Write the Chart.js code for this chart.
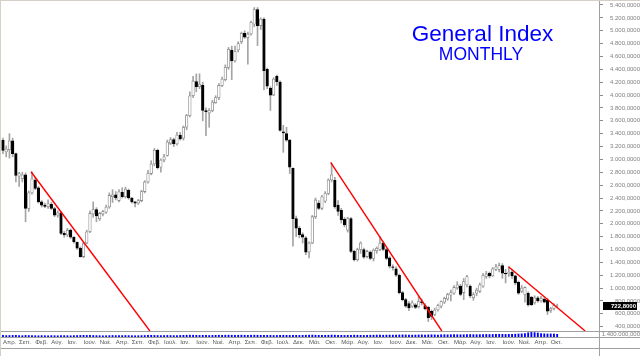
<!DOCTYPE html>
<html>
<head>
<meta charset="utf-8">
<script src="https://cdn.jsdelivr.net/npm/chart.js@4.4.1/dist/chart.umd.min.js"></script>
<style>
html,body{margin:0;padding:0;background:#fff;}
#wrap{width:640px;height:356px;position:relative;}
</style>
</head>
<body>
<div id="wrap"><canvas id="c" width="640" height="356"></canvas></div>
<script>
// ---- tick labels (x axis: one label every 5 monthly bars) ----
const tickLabels = ['Απρ.','Σεπ.','Φεβ.','Αύγ.','Ιαν.','Ιούν.','Νοέ.','Απρ.','Σεπ.','Φεβ.','Ιούλ.','Ιαν.','Ιούν.','Νοέ.','Απρ.','Σεπ.','Φεβ.','Ιούλ.','Δεκ.','Μάι.','Οκτ.','Μάρ.','Αύγ.','Ιαν.','Ιούν.','Δεκ.','Μάι.','Οκτ.','Μάρ.','Αύγ.','Ιαν.','Ιούν.','Νοέ.','Απρ.','Οκτ.'];
const tickBars = [0,5,10,15,20,25,30,35,40,45,50,55,60,65,70,75,80,85,90,95,100,105,110,115,120,125,130,135,140,145,150,155,160,165,170];
const yTicks = [400,600,800,1000,1200,1400,1600,1800,2000,2200,2400,2600,2800,3000,3200,3400,3600,3800,4000,4200,4400,4600,4800,5000,5200,5400];
const volTicks = [1400000];

// ---- monthly OHLC of the General Index ----
const opens = [3295,3115,3150,3290,3090,2740,2701,2760,2237,2480,
2680,2560,2340,2290,2265,2300,2237,2134,2170,1850,
1825,1900,1790,1710,1620,1490,1700,1876,2150,2220,
2080,2150,2180,2260,2420,2450,2360,2490,2420,2520,
2400,2340,2320,2360,2500,2650,2780,2930,3140,2880,
2990,3060,3250,3310,3240,3380,3330,3500,3680,3990,
4210,4130,4150,3760,3720,3760,3880,3960,4150,4240,
4430,4700,4530,4700,4830,4960,4890,4950,5100,5330,
5080,5180,4400,4110,4000,4290,4200,3430,3400,3300,
2860,2080,1930,1830,1780,1560,1700,2110,2320,2240,
2350,2470,2680,2676,2290,2210,2070,1900,2080,1570,
1440,1600,1600,1490,1560,1460,1580,1600,1700,1600,
1470,1330,1300,1200,930,820,760,720,740,710,
790,730,700,640,590,660,720,780,830,890,
920,1000,1030,930,1050,1030,850,920,950,1030,
1180,1230,1190,1290,1290,1350,1230,1220,1250,1190,
1090,950,900,920,860,770,850,800,830,810,
650,680,720];
const highs = [3330,3210,3400,3330,3100,2800,2800,2790,2510,2805,
2720,2580,2360,2320,2370,2330,2260,2200,2190,1880,
1930,1920,1800,1720,1640,1710,1900,2200,2340,2250,
2180,2210,2290,2480,2530,2500,2530,2560,2570,2540,
2410,2350,2380,2520,2670,2830,2980,3170,3160,3010,
3080,3300,3340,3330,3420,3420,3520,3700,4050,4290,
4330,4330,4200,3800,3790,3920,3990,4180,4280,4470,
4740,4760,4760,4830,4980,5000,4980,5150,5360,5360,
5200,5200,4420,4130,4270,4310,4220,3530,3500,3310,
2870,2120,1960,1860,1800,1720,2130,2400,2360,2440,
2500,2700,2940,2720,2360,2240,2100,2100,2100,1590,
1620,1720,1620,1590,1580,1610,1640,1800,1720,1620,
1490,1360,1330,1220,950,840,790,800,760,870,
830,760,720,660,690,750,800,860,920,970,
1040,1100,1060,1150,1200,1050,930,1000,1080,1230,
1260,1250,1320,1370,1390,1380,1290,1330,1280,1200,
1110,1040,1020,940,870,880,870,870,850,840,
700,760,750];
const lows = [3090,3040,3020,3040,2650,2580,2650,2030,2190,2460,
2530,2320,2260,2250,2240,2220,2110,2100,1830,1790,
1800,1770,1700,1600,1480,1470,1690,1860,2100,2030,
2050,2120,2160,2240,2330,2370,2340,2400,2400,2380,
2320,2260,2300,2340,2480,2630,2760,2900,2850,2800,
2960,3050,3230,3200,3220,3300,3300,3460,3660,3960,
4050,4100,3600,3370,3500,3740,3870,3930,4130,4220,
4400,4240,4510,4670,4800,4880,4480,4930,5060,4770,
5020,4080,4100,3760,3990,4150,3440,3110,3280,2780,
1650,1800,1780,1700,1520,1470,1690,2080,2220,2220,
2330,2450,2650,2240,2130,2010,1950,1870,1550,1420,
1420,1540,1460,1470,1440,1420,1540,1580,1580,1440,
1310,1280,1180,910,800,700,650,700,680,690,
740,660,480,510,570,640,690,760,810,800,
900,980,880,820,1020,850,810,880,930,1010,
1150,1160,1180,1270,1250,1150,1080,1180,1150,1050,
900,930,780,720,730,750,780,780,770,590,
620,660,700];
const closes = [3140,3160,3290,3090,2753,2780,2760,2237,2480,2700,
2550,2340,2290,2270,2310,2237,2134,2170,1850,1825,
1900,1790,1720,1620,1490,1690,1876,2160,2220,2120,
2160,2190,2260,2440,2450,2400,2495,2420,2540,2400,
2340,2320,2360,2500,2650,2780,2930,3140,2870,2990,
3040,3270,3310,3240,3380,3320,3500,3680,3990,4220,
4130,4170,3760,3740,3760,3890,3960,4150,4250,4430,
4710,4530,4680,4800,4960,4900,4950,5130,5330,5080,
5180,4380,4140,4000,4250,4210,3450,3410,3300,2880,
2080,1930,1830,1790,1560,1700,2110,2370,2240,2420,
2470,2680,2760,2260,2190,2060,1980,2080,1570,1440,
1600,1700,1480,1570,1460,1590,1620,1700,1600,1460,
1340,1320,1200,930,820,720,690,770,700,790,
770,680,540,560,660,730,790,840,900,930,
1010,1050,900,1100,1180,880,900,970,1050,1200,
1220,1190,1300,1330,1350,1230,1220,1250,1190,1080,
920,1000,1010,740,740,850,800,840,780,640,
680,730,722.8];
const volumes = [900e3,800e3,850e3,900e3,950e3,800e3,750e3,900e3,850e3,800e3,
750e3,700e3,800e3,750e3,700e3,800e3,750e3,700e3,850e3,800e3,
750e3,700e3,800e3,850e3,900e3,950e3,900e3,1000e3,850e3,800e3,
750e3,700e3,750e3,800e3,850e3,800e3,750e3,800e3,850e3,800e3,
750e3,700e3,750e3,800e3,850e3,900e3,950e3,900e3,850e3,800e3,
850e3,900e3,850e3,800e3,850e3,900e3,950e3,1000e3,1050e3,1000e3,
950e3,900e3,950e3,900e3,850e3,900e3,950e3,1000e3,950e3,1000e3,
1050e3,1000e3,950e3,1000e3,1050e3,1000e3,950e3,1000e3,1050e3,1000e3,
950e3,1000e3,950e3,900e3,850e3,900e3,950e3,1000e3,950e3,900e3,
1000e3,950e3,900e3,950e3,1000e3,1050e3,1100e3,1000e3,950e3,900e3,
950e3,1000e3,1100e3,1050e3,1000e3,950e3,900e3,950e3,1000e3,1050e3,
1000e3,950e3,900e3,950e3,1000e3,1050e3,1100e3,1050e3,1000e3,1050e3,
1100e3,1050e3,1100e3,1150e3,1200e3,1150e3,1100e3,1050e3,1100e3,1150e3,
1200e3,1150e3,1200e3,1250e3,1200e3,1150e3,1250e3,1300e3,1250e3,1300e3,
1350e3,1300e3,1250e3,1300e3,1350e3,1400e3,1350e3,1300e3,1350e3,1400e3,
1450e3,1400e3,1450e3,1500e3,1550e3,1500e3,1450e3,1500e3,1550e3,1600e3,
1700e3,1800e3,1900e3,2400e3,2600e3,2500e3,2300e3,1900e3,1800e3,1700e3,
1750e3,1700e3,1500e3];

// ---- red trend lines (bar position, index value) ----
const trend1Bars = [8.7, 45.6];   const trend1Vals = [2808, 333];
const trend2Bars = [101.7, 136.2]; const trend2Vals = [2955, 333];
const trend3Bars = [156.9, 180.7]; const trend3Vals = [1332, 333];

function fmtNum(v, dec) {
  const fixed = Math.abs(v).toFixed(dec);
  let parts = fixed.split('.');
  const ip = parts[0].replace(/\B(?=(\d{3})+(?!\d))/g, '.');
  return ip + (parts[1] ? ',' + parts[1] : '');
}

const idx = closes.map((_, i) => i);
const isUp = i => closes[i] >= opens[i];
const trendSet = (bars, vals) => ({
  type: 'line',
  data: bars.map((b, k) => ({x: b, y: vals[k]})),
  borderColor: '#ff0000', borderWidth: 1.4, pointRadius: 0, tension: 0,
  yAxisID: 'y', order: 0
});
const noPad = s => { s.paddingTop = 0; s.paddingBottom = 0; s.paddingLeft = 0; s.paddingRight = 0; };

const framePlugin = {
  id: 'frame',
  beforeDraw(chart) {
    const {ctx, width, height} = chart;
    ctx.save();
    ctx.fillStyle = '#ffffff';
    ctx.fillRect(0, 0, width, height);
    ctx.restore();
  },
  afterDraw(chart) {
    const {ctx, width, height, chartArea, scales} = chart;
    ctx.save();
    ctx.strokeStyle = '#a0a0a0';
    ctx.lineWidth = 1;
    const hl = y => { const yy = Math.round(y) + 0.5; ctx.beginPath(); ctx.moveTo(0, yy); ctx.lineTo(width, yy); ctx.stroke(); };
    hl(scales.y.bottom);
    hl(scales.yv.bottom);
    hl(scales.x.bottom);
    const xr = Math.round(chartArea.right) - 0.5;
    ctx.beginPath(); ctx.moveTo(xr, 0); ctx.lineTo(xr, height); ctx.stroke();
    // window border
    ctx.fillStyle = '#d4d0c8';
    ctx.fillRect(0, 0, 1, height);
    ctx.fillRect(0, 0, width, 1);
    // last price label
    const last = closes[closes.length - 1];
    const py = scales.y.getPixelForValue(last);
    ctx.fillStyle = '#000000';
    ctx.fillRect(chartArea.right + 3, Math.round(py) - 4, 34, 8);
    ctx.fillStyle = '#ffffff';
    ctx.font = 'bold 6px "Liberation Sans", Arial, sans-serif';
    ctx.textAlign = 'right';
    ctx.textBaseline = 'middle';
    ctx.fillText(fmtNum(last, 4), chartArea.right + 36, Math.round(py));
    // title
    ctx.fillStyle = '#0000ff';
    ctx.textAlign = 'center';
    ctx.textBaseline = 'alphabetic';
    ctx.font = '22.5px "Liberation Sans", Arial, sans-serif';
    ctx.fillText('General Index', 482.5, 41);
    ctx.font = '17.5px "Liberation Sans", Arial, sans-serif';
    ctx.fillText('MONTHLY', 481, 60);
    ctx.restore();
  }
};

Chart.defaults.font.family = '"Liberation Sans", Arial, sans-serif';

new Chart(document.getElementById('c'), {
  type: 'bar',
  data: {
    datasets: [
      trendSet(trend1Bars, trend1Vals),
      trendSet(trend2Bars, trend2Vals),
      trendSet(trend3Bars, trend3Vals),
      {
        type: 'bar',
        data: idx.map(i => ({x: i, y: [opens[i], closes[i]]})),
        backgroundColor: c => isUp(c.dataIndex) ? '#ffffff' : '#000000',
        borderColor: c => isUp(c.dataIndex) ? '#8a8a8a' : '#000000',
        borderWidth: 0.8, borderSkipped: false,
        barThickness: 2.6, grouped: false, yAxisID: 'y', order: 1
      },
      {
        type: 'bar',
        data: idx.map(i => ({x: i, y: [lows[i], highs[i]]})),
        backgroundColor: '#a4a4a4',
        barThickness: 1, grouped: false, yAxisID: 'y', order: 2
      },
      {
        type: 'bar',
        data: idx.map(i => ({x: i, y: volumes[i]})),
        backgroundColor: '#0000ff',
        barThickness: 1.2, grouped: false, yAxisID: 'yv', order: 3
      }
    ]
  },
  options: {
    responsive: false,
    animation: false,
    devicePixelRatio: 1,
    layout: {autoPadding: false, padding: {top: 1, left: 1, right: 0, bottom: 8}},
    plugins: {legend: {display: false}, tooltip: {enabled: false}, title: {display: false}},
    scales: {
      x: {
        type: 'linear', min: -0.62, max: 185.3, bounds: 'data', offset: false,
        grid: {display: false, drawTicks: false, offset: false}, border: {display: false},
        ticks: {
          autoSkip: false, maxRotation: 0, align: 'start', padding: 2,
          color: '#555555', font: {size: 6},
          callback: (v, i) => tickLabels[i] ?? ''
        },
        afterBuildTicks: s => { s.ticks = tickBars.map(v => ({value: v})); },
        afterFit: s => { s.height = 11; noPad(s); }
      },
      y: {
        type: 'linear', position: 'right', stack: 'panes', stackWeight: 330, weight: 1,
        min: 333, max: 5462, bounds: 'data',
        grid: {display: true, drawOnChartArea: false, drawTicks: true, tickLength: 3, color: '#8a8a8a'},
        border: {display: false},
        ticks: {crossAlign: 'far', padding: 5, color: '#808080', font: {size: 6}, autoSkip: false,
          callback: v => fmtNum(v, 4)},
        afterBuildTicks: s => { s.ticks = yTicks.map(v => ({value: v})); },
        afterFit: s => { s.width = 40; noPad(s); }
      },
      yv: {
        type: 'linear', position: 'right', stack: 'panes', stackWeight: 6, weight: 2,
        min: 0, max: 3400000, bounds: 'data',
        grid: {display: false, drawTicks: false}, border: {display: false},
        ticks: {crossAlign: 'far', padding: 2, color: '#808080', font: {size: 6}, autoSkip: false,
          callback: v => fmtNum(v, 3)},
        afterBuildTicks: s => { s.ticks = volTicks.map(v => ({value: v})); },
        afterFit: s => { s.width = 40; noPad(s); }
      }
    }
  },
  plugins: [framePlugin]
});
</script>
</body>
</html>
